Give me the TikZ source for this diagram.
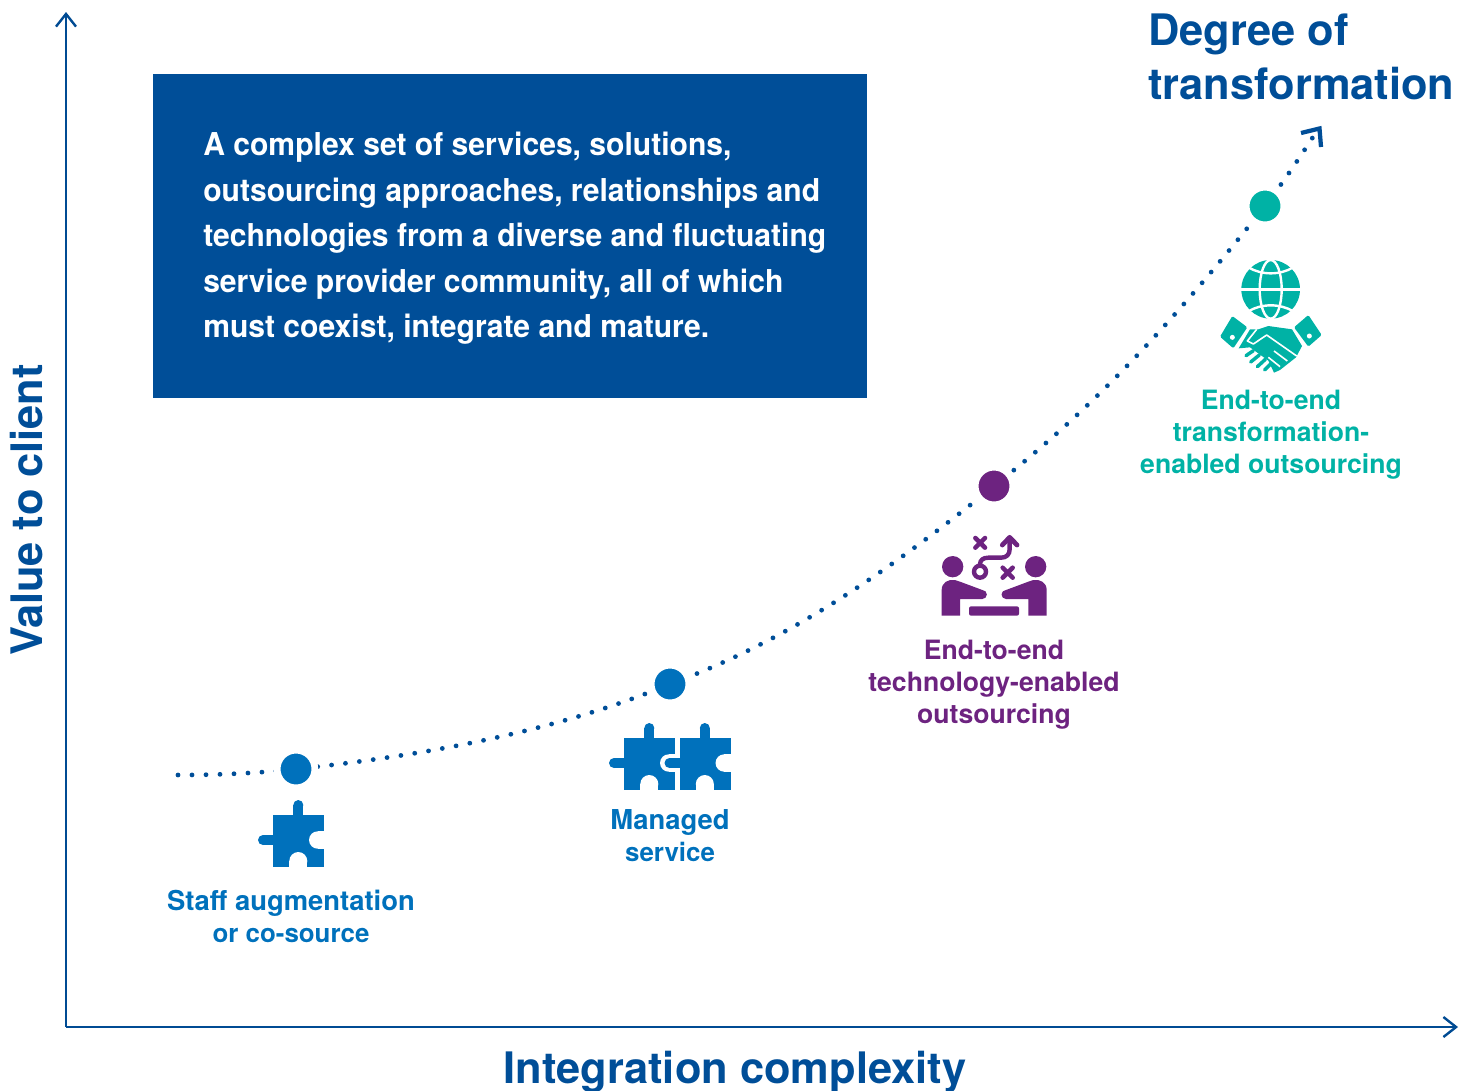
\documentclass[tikz,border=0pt]{standalone}
\usepackage{fontspec}
\setmainfont{TeX Gyre Heros}
\newfontfamily\narrowheros[FakeStretch=0.955]{TeX Gyre Heros}
\usetikzlibrary{arrows.meta}
\definecolor{navy}{HTML}{004E98}
\definecolor{axisblue}{HTML}{004B93}
\definecolor{midblue}{HTML}{0071BC}
\definecolor{plum}{HTML}{6D2380}
\definecolor{teal2}{HTML}{00B2A5}
\newcommand{\setpx}[2]{\fontsize{\dimexpr#1pt*3/4\relax}{\dimexpr#2pt*3/4\relax}\selectfont\bfseries}
\tikzset{
  px/.style={x=0.75pt,y=-0.75pt},
  axisline/.style={draw=axisblue,line width=1.8pt,-{Straight Barb[length=9.5pt,width=15pt,line width=1.8pt]}},
  dotline/.style={draw=navy,line width=3.6pt,line cap=round,dash pattern=on 0pt off 10.5pt},
  stagedot/.style={circle,minimum size=28.25pt,inner sep=0pt,draw=white,line width=5pt,fill=#1},
  lbl/.style={text=#1,align=center,inner sep=0pt,font=\setpx{26.6}{32}},
  axislbl/.style={text=navy,inner sep=0pt,font=\setpx{43.4}{54},align=left},
}
\newcommand{\puzzle}[3]{%
 \begin{scope}[shift={(#1,#2)}]
 \fill[#3] (0,0) rectangle (51,52);
 \fill[#3] (20.3,0) rectangle (30.3,-9.5);
 \fill[#3] (25.3,-9.5) circle[radius=5];
 \fill[#3] (0,20.5) rectangle (-10,30.5);
 \fill[#3] (-10,25.5) circle[radius=5];
 \fill[white] (44.7,16.8) rectangle (52,34.2);
 \fill[white] (44.7,25.5) circle[radius=8.7];
 \fill[white] (16.3,46.5) rectangle (34.3,53);
 \fill[white] (25.3,46.5) circle[radius=9];
 \end{scope}}
\begin{document}
\begin{tikzpicture}[px]
\useasboundingbox (0,0) rectangle (1469,1090);
% axes
\coordinate (origin) at (66,1027);
\coordinate (ytip) at (66,12);
\coordinate (xtip) at (1458,1027);
\draw[axisline] (origin) -- (ytip);
\draw[axisline] (origin) -- (xtip);
% text box
\node[fill=navy,minimum width=535.5pt,minimum height=243pt,inner sep=0pt,anchor=north west] (box) at (153,74) {};
\node[anchor=north west,text=white,inner sep=0pt,align=left,font=\narrowheros\setpx{31.5}{45.5}] (boxtext) at (203,132)
 {A complex set of services, solutions,\\outsourcing approaches, relationships and\\technologies from a diverse and fluctuating\\service provider community, all of which\\must coexist, integrate and mature.};
% curve
\coordinate (cstart) at (178,775);
\coordinate (cend) at (1313,137);
\coordinate (p1) at (296,769);
\coordinate (p2) at (670,684);
\coordinate (p3) at (994,486);
\coordinate (p4) at (1265,206);
\draw[dotline] (cstart) .. controls (220,775) and (260,773) .. (p1)
  .. controls (430,755) and (560,730) .. (p2)
  .. controls (790,640) and (890,570) .. (p3)
  .. controls (1110,395) and (1190,300) .. (p4)
  .. controls (1282,184) and (1298,160) .. (cend);
\node[stagedot=midblue] (d1) at (p1) {};
\node[stagedot=midblue] (d2) at (p2) {};
\node[stagedot=plum] (d3) at (p3) {};
\node[stagedot=teal2] (d4) at (p4) {};
\coordinate (h1) at (1301,133);\coordinate (h2) at (1319.5,128.5);\coordinate (h3) at (1321,147);
\draw[draw=navy,line width=3.2pt] (h1) -- (h2) -- (h3);
% puzzles
\puzzle{273}{814.5}{midblue}
\puzzle{624}{737.5}{midblue}
\puzzle{679.5}{737.5}{midblue}
% team icon
\begin{scope}[shift={(925,525)},scale=1/3]
 \fill[plum] (83,125) circle[radius=32] (332,125) circle[radius=32];
 \fill[plum] (50,272) -- (50,195) .. controls (50,172) and (70,162) .. (90,165) -- (105,170) -- (172,195) -- (172,222) -- (105,222) -- (105,272) -- cycle;
 \fill[plum] (172,208.5) circle[radius=13.5];
 \fill[plum] (365,272) -- (365,195) .. controls (365,172) and (345,162) .. (325,165) -- (310,170) -- (243,195) -- (243,222) -- (310,222) -- (310,272) -- cycle;
 \fill[plum] (243,208.5) circle[radius=13.5];
 \fill[plum,rounded corners=1.5pt] (132,244) rectangle (282,272);
 \draw[plum,line width=3.3pt] (165,140) circle[radius=18];
 \draw[plum,line width=3.3pt,line join=round] (165,122) -- (165,118) .. controls (165,105) and (175,98) .. (190,98) -- (228,98) .. controls (245,98) and (254,88) .. (254,72) -- (254,40);
 \draw[plum,line width=3.6pt,line join=round,line cap=round] (232,60) -- (254,37) -- (276,60);
 \draw[plum,line width=3.4pt,line cap=round] (151,39) -- (180,68) (180,39) -- (151,68);
 \draw[plum,line width=3.4pt,line cap=round] (233,128) -- (263,158) (263,128) -- (233,158);
\end{scope}
% globe and handshake
\begin{scope}[shift={(1200,240)},scale=1/3]
 \fill[teal2] (212,148) circle[radius=88];
 \draw[white,line width=1.8pt] (212,148) ellipse[x radius=33,y radius=88];
 \draw[white,line width=1.8pt] (120,148) -- (304,148);
 \draw[white,line width=1.8pt] (145,82) .. controls (185,106) and (240,106) .. (280,82);
 \draw[white,line width=1.8pt] (145,214) .. controls (185,190) and (240,190) .. (280,214);
 \fill[teal2,rounded corners=1pt] (97,228) -- (142,262) -- (100,325) -- (60,290) -- cycle;
 \fill[white] (97,292) circle[radius=7.5];
 \fill[teal2,rounded corners=1pt] (325,225) -- (365,285) -- (325,320) -- (282,262) -- cycle;
 \fill[white] (328,288) circle[radius=7.5];
 \fill[teal2,line join=round] (116,325) -- (150,268) -- (175,268) -- (205,258) -- (276,268) -- (306,318) -- (288,352) -- (240,390) -- (222,398) -- (205,362) -- (150,322) -- cycle;
 \draw[white,line width=1.2pt,line join=round] (170,268) -- (142,303) -- (160,312) -- (200,285) -- (290,348);
 \draw[white,line width=1.2pt] (262,363) -- (222,333) (240,380) -- (205,352);
 \draw[teal2,line width=2.6pt,line cap=round] (160,332) -- (138,347) (178,345) -- (152,366) (196,358) -- (172,380) (212,372) -- (194,390);
\end{scope}
% labels
\node[lbl=midblue,font=\setpx{27.4}{32}] (l1) at (291,916) {Staff augmentation\\{\setpx{25.9}{32}or co-source}};
\node[lbl=midblue,font=\setpx{27.4}{32}] (l2) at (670,836) {Managed\\{\setpx{25.9}{32}service}};
\node[lbl=plum] (l3) at (994,685) {End-to-end\\technology-enabled\\outsourcing};
\node[lbl=teal2] (l4) at (1271,435) {End-to-end\\transformation-\\enabled outsourcing};
\node[axislbl,anchor=north west] (deg) at (1148,14) {Degree of\\transformation};
\node[axislbl,rotate=90] (yl) at (27,510) {Value to client};
\node[axislbl] (xl) at (735,1072) {Integration complexity};
\end{tikzpicture}
\end{document}
